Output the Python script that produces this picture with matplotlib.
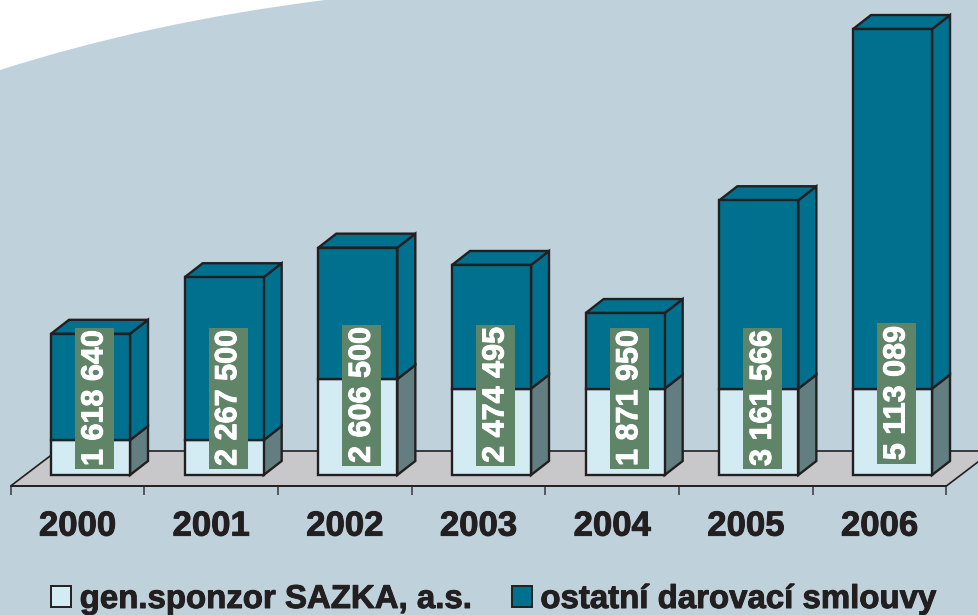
import matplotlib
matplotlib.use("Agg")
import matplotlib.pyplot as plt
import matplotlib.patheffects as pe
from matplotlib.patches import Patch, Polygon, PathPatch, Rectangle
from matplotlib.path import Path

years = ["2000", "2001", "2002", "2003", "2004", "2005", "2006"]
labels = [1618640, 2267500, 2606500, 2474495, 1871950, 3161566, 5113089]
sazka = [400000, 400000, 1100000, 990000, 990000, 990000, 990000]
ostatni = [1218640, 1867500, 1506500, 1418000, 867000, 2160000, 4123000]

plt.rcParams["font.family"] = ["Liberation Sans", "DejaVu Sans"]
plt.rcParams["font.weight"] = "bold"

W, H = 979, 615
BG = "#BFD2DC"
LIGHT = "#D3ECF3"
TEAL = "#00708F"
GREY_SIDE = "#627E80"
FLOOR = "#C8C8CA"
BOX = "#5F8468"
EDGE = "#231F20"

# one category = 133.67 px, one px = 11465 units of value
UX = 133.67
UY = 11465
fig = plt.figure(figsize=(W / 100, H / 100), dpi=100, facecolor=BG)

# white corner top left
bg = fig.add_axes([0, 0, 1, 1], zorder=0)
bg.set_xlim(0, W)
bg.set_ylim(H, 0)
bg.axis("off")
corner = Path([(0, 0), (0, 70), (150, 22), (325, 0), (0, 0)],
              [Path.MOVETO, Path.LINETO, Path.CURVE3, Path.CURVE3, Path.CLOSEPOLY])
bg.add_patch(PathPatch(corner, fc="white", ec="none"))

ax = fig.add_axes([0, 0, 1, 1], zorder=1)
ax.patch.set_alpha(0)
ax.set_xlim(-77.5 / UX, (W - 77.5) / UX)
ax.set_ylim(-(H - 475) * UY, 475 * UY)

dx = 18 / UX
dy = 14 * UY
width = 79 / UX
shift = 13 / UX
positions = list(range(len(years)))
bar_x = [p + shift for p in positions]

# floor
floor_y0 = -11 * UY
floor_y1 = 24 * UY
ax.add_patch(Polygon([(-0.5, floor_y0), (-0.5 + 46 / UX, floor_y1),
                      (6.5 + 46 / UX, floor_y1), (6.5, floor_y0)],
                     closed=True, fc=FLOOR, ec=EDGE, lw=1.2, zorder=1))

for x, s, o in zip(bar_x, sazka, ostatni):
    left = x - width / 2
    right = x + width / 2
    top = s + o
    # sides
    ax.add_patch(Polygon([(right, 0), (right + dx, dy), (right + dx, s + dy), (right, s)],
                         closed=True, fc=GREY_SIDE, ec=EDGE, lw=1.7, zorder=2))
    ax.add_patch(Polygon([(right, s), (right + dx, s + dy), (right + dx, top + dy), (right, top)],
                         closed=True, fc=TEAL, ec=EDGE, lw=1.7, zorder=2))
    ax.add_patch(Polygon([(left, top), (left + dx, top + dy), (right + dx, top + dy), (right, top)],
                         closed=True, fc=TEAL, ec=EDGE, lw=1.7, zorder=2))

ax.bar(bar_x, sazka, width, color=LIGHT, edgecolor=EDGE, linewidth=1.7, zorder=3)
ax.bar(bar_x, ostatni, width, bottom=sazka, color=TEAL, edgecolor=EDGE, linewidth=1.7, zorder=3)

# value labels, centre of the box in px above the base of the bar
label_center = [77, 77, 80, 80, 77, 77, 82]
box_w = 39 / UX
box_h = 141 * UY
for x, v, c in zip(bar_x, labels, label_center):
    ax.add_patch(Rectangle((x + 4 / UX - box_w / 2, c * UY - box_h / 2), box_w, box_h,
                           fc=BOX, ec="none", zorder=4))
    ax.text(x + 4 / UX, c * UY, f"{v:,}".replace(",", " "),
            rotation=90, ha="center", va="center", color="white", fontsize=22,
            path_effects=[pe.withStroke(linewidth=0.7, foreground="white")], zorder=5)

# axis line under the floor
for side in ["top", "left", "right"]:
    ax.spines[side].set_visible(False)
ax.spines["bottom"].set_position(("data", floor_y0))
ax.spines["bottom"].set_bounds(-0.5, 6.5)
ax.spines["bottom"].set_color(EDGE)
ax.spines["bottom"].set_linewidth(1.2)
ax.set_yticks([])
ax.set_xticks([p - 0.5 for p in positions] + [6.5])
ax.set_xticklabels([])
ax.tick_params(axis="x", which="major", length=6.5, width=1.2, color="#444444")
ax.set_xticks(positions, minor=True)
ax.set_xticklabels(years, minor=True, fontsize=25, color=EDGE,
                   path_effects=[pe.withStroke(linewidth=0.7, foreground=EDGE)])
ax.tick_params(axis="x", which="minor", length=0, pad=17)

handles = [Patch(fc=LIGHT, ec=EDGE, lw=1.4), Patch(fc=TEAL, ec=EDGE, lw=1.4)]
leg = ax.legend(handles, ["gen.sponzor SAZKA, a.s.", "ostatní darovací smlouvy"],
                ncol=2, frameon=False, loc="lower left", bbox_to_anchor=(51 / W, 0),
                bbox_transform=fig.transFigure, fontsize=23.75, labelcolor=EDGE,
                handlelength=0.62, handleheight=0.62, handletextpad=0.25, columnspacing=1.2,
                borderpad=0, borderaxespad=0)
for t in leg.get_texts():
    t.set_path_effects([pe.withStroke(linewidth=0.7, foreground=EDGE)])

fig.savefig("out.png", dpi=100, facecolor=BG)
